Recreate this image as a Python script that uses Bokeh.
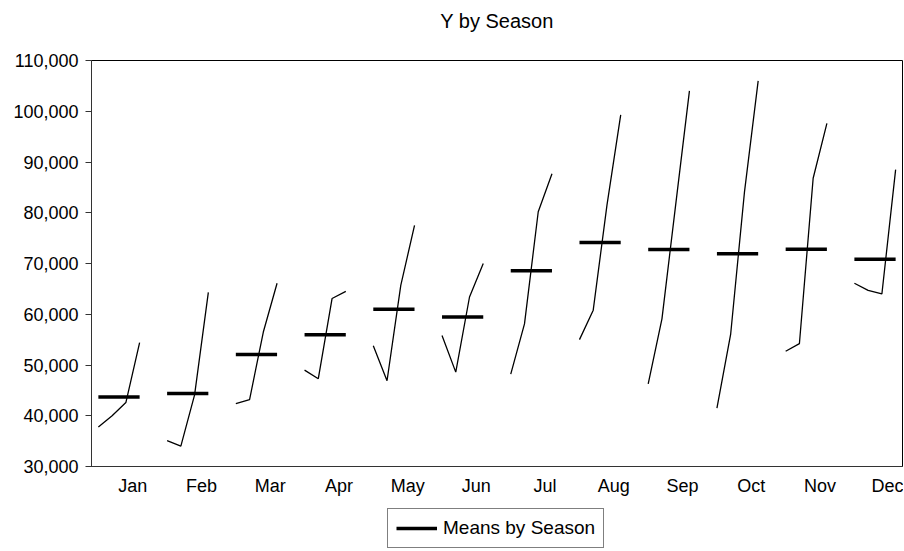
from bokeh.plotting import figure
from bokeh.layouts import column
from bokeh.models import FixedTicker, Legend, LegendItem, NumeralTickFormatter, Range1d, Title
from bokeh.embed import file_html
from bokeh.resources import INLINE

months = ["Jan", "Feb", "Mar", "Apr", "May", "Jun", "Jul", "Aug", "Sep", "Oct", "Nov", "Dec"]
year1 = [37800, 35100, 42400, 49000, 53800, 55800, 48200, 55000, 46300, 41500, 52700, 66100]
year2 = [40000, 34000, 43200, 47300, 46900, 48600, 58100, 60800, 59100, 56100, 54200, 64700]
year3 = [42600, 44100, 56500, 63100, 65700, 63400, 80200, 81500, 81600, 84000, 86800, 64000]
year4 = [54400, 64300, 66100, 64500, 77500, 70000, 87700, 99300, 104000, 106000, 97600, 88500]
y_ticks = [30000, 40000, 50000, 60000, 70000, 80000, 90000, 100000, 110000]

years = [year1, year2, year3, year4]
n_years = len(years)
slot = n_years + 1

xs, ys, mx0, mx1, my = [], [], [], [], []
for m in range(len(months)):
    vals = [yr[m] for yr in years]
    xs.append([m * slot + j for j in range(n_years)])
    ys.append(vals)
    mx0.append(m * slot)
    mx1.append(m * slot + n_years - 1)
    my.append(sum(vals) / len(vals))

FONT = "Liberation Sans"
FS = "18px"
W = 903

p = figure(width=W, height=500,
           x_range=Range1d(-0.5, len(months) * slot - 1.5),
           y_range=Range1d(30000, 110000),
           output_backend="svg", toolbar_location=None,
           min_border_left=91, min_border_right=1,
           min_border_top=60, min_border_bottom=34)
p.title.text = ""

# spacer (closest to the frame) then the real title above it
p.add_layout(Title(text=" ", text_font_size="10px", standoff=16), "above")
p.add_layout(Title(text="Y by Season", align="center", text_font=FONT,
                   text_font_size="20px", text_font_style="normal",
                   text_color="#000000", standoff=0), "above")

p.xgrid.visible = False
p.ygrid.visible = False
p.outline_line_color = "#000000"
p.outline_line_width = 1

p.multi_line(xs, ys, line_color="black", line_width=1.3)
p.segment(x0=mx0, y0=my, x1=mx1, y1=my, line_color="black", line_width=3.5)

p.yaxis.ticker = FixedTicker(ticks=y_ticks)
p.yaxis.formatter = NumeralTickFormatter(format="0,0")
p.yaxis.major_tick_in = 0
p.yaxis.major_tick_out = 6
p.yaxis.minor_tick_line_color = None
p.yaxis.axis_line_color = "#333333"
p.yaxis.major_tick_line_color = "#333333"
p.yaxis.major_label_text_font = FONT
p.yaxis.major_label_text_font_size = FS
p.yaxis.major_label_text_color = "#000000"
p.yaxis.major_label_standoff = 7

label_pos = [m * slot + n_years / 2 + 0.5 for m in range(len(months))]
p.xaxis.ticker = FixedTicker(ticks=label_pos)
p.xaxis.major_label_overrides = {lp: name for lp, name in zip(label_pos, months)}
p.xaxis.major_tick_in = 0
p.xaxis.major_tick_out = 0
p.xaxis.minor_tick_line_color = None
p.xaxis.axis_line_color = "#333333"
p.xaxis.major_label_text_font = FONT
p.xaxis.major_label_text_font_size = FS
p.xaxis.major_label_text_color = "#000000"
p.xaxis.major_label_standoff = 9

# legend strip below the chart (its frame is aligned with the chart's frame)
lg = figure(width=W, height=50, x_range=Range1d(0, 1), y_range=Range1d(0, 1),
            output_backend="svg", toolbar_location=None,
            min_border_left=0, min_border_right=0, min_border_top=0, min_border_bottom=0)
lg.axis.visible = False
lg.xgrid.visible = False
lg.ygrid.visible = False
lg.outline_line_color = None
mean_r = lg.line(x=[0, 1], y=[-5, -5], line_color="black", line_width=3.5)
legend = Legend(items=[LegendItem(label="Means by Season", renderers=[mean_r])],
                location=(296, 2), orientation="horizontal",
                border_line_color="black", border_line_width=1,
                label_text_font=FONT, label_text_font_size="19px",
                label_text_color="#000000",
                glyph_width=41, glyph_height=20, label_height=20,
                padding=8, margin=0, spacing=0, label_standoff=6)
lg.add_layout(legend, "center")

open("out.html", "w").write(file_html(column(p, lg, spacing=0), INLINE))
